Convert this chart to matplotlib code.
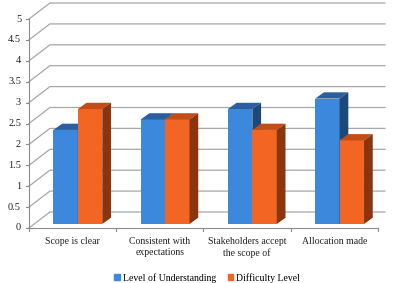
import matplotlib
matplotlib.use('Agg')
import matplotlib.pyplot as plt
from matplotlib.patches import Polygon, Patch
import numpy as np

# data
categories = ['Scope is clear', 'Consistent with\nexpectations',
              'Stakeholders accept\nthe scope of', 'Allocation made']
understanding = [2.25, 2.5, 2.75, 3.0]
difficulty = [2.75, 2.5, 2.25, 2.0]
series_names = ['Level of Understanding', 'Difficulty Level']
y_ticks = [0, 0.5, 1, 1.5, 2, 2.5, 3, 3.5, 4, 4.5, 5]
y_tick_labels = ['0', '0.5', '1', '1.5', '2', '2.5', '3', '3.5', '4', '4.5', '5']

# fake 3d geometry (data units)
WALL_DX, WALL_DY = 0.24, 0.383      # depth of the back wall
BAR_X0, BAR_Y0 = 0.06, 0.096        # bars set back from front plane
BAR_DX, BAR_DY = 0.10, 0.15         # depth of each bar
BAR_W = 0.28
GRID_END = 3.58

colors = {
    'blue': ('#3C88DC', '#2B5F9F', '#1F4878'),
    'orange': ('#F26522', '#C24E17', '#8A3510'),
}
grid_c = '#A8A8A8'
axis_c = '#8C8C8C'
serif = ['Liberation Serif', 'DejaVu Serif']

fig = plt.figure(figsize=(3.93, 2.83), dpi=100)
ax = fig.add_axes([0, 0, 1, 1])
ax.set_xlim(-0.832, 3.672)
ax.set_ylim(-1.316, 5.455)
ax.axis('off')

# side wall diagonals + back wall grid
for v in y_ticks:
    ax.plot([-0.5, -0.5 + WALL_DX, GRID_END], [v, v + WALL_DY, v + WALL_DY],
            color=grid_c, lw=0.9, zorder=1)
    ax.plot([-0.5, -0.535], [v, v], color=axis_c, lw=0.8, zorder=1)

# front axes
ax.plot([-0.5, -0.5], [0, 5], color=axis_c, lw=0.8, zorder=1)
ax.plot([-0.5, 3.5], [0, 0], color=axis_c, lw=0.8, zorder=1)
for b in np.arange(-0.5, 4.0, 1.0):
    ax.plot([b, b], [0, -0.07], color=axis_c, lw=0.8, zorder=1)

for v, lab in zip(y_ticks, y_tick_labels):
    ax.text(-0.59, v, lab, ha='right', va='center', fontsize=7.5,
            family=serif, color='#222222')

x = np.arange(len(categories))


def draw_bar(xl, h, cols, z):
    front, top, side = cols
    ax.bar(xl, h, width=BAR_W, bottom=BAR_Y0, align='edge', color=front,
           zorder=z)
    xr = xl + BAR_W
    yt = BAR_Y0 + h
    ax.add_patch(Polygon([(xl, yt), (xr, yt), (xr + BAR_DX, yt + BAR_DY),
                          (xl + BAR_DX, yt + BAR_DY)], closed=True,
                         facecolor=top, edgecolor='none', zorder=z))
    ax.add_patch(Polygon([(xr, BAR_Y0), (xr, yt), (xr + BAR_DX, yt + BAR_DY),
                          (xr + BAR_DX, BAR_Y0 + BAR_DY)], closed=True,
                         facecolor=side, edgecolor='none', zorder=z))


z = 3
for i in range(len(categories)):
    draw_bar(x[i] + BAR_X0 - BAR_W, understanding[i], colors['blue'], z)
    draw_bar(x[i] + BAR_X0, difficulty[i], colors['orange'], z + 1)
    z += 2

for i, lab in enumerate(categories):
    ax.text(x[i], -0.22, lab, ha='center', va='top', fontsize=7,
            family=serif, color='#222222', linespacing=1.3)

handles = [Patch(color=colors['blue'][0]), Patch(color=colors['orange'][0])]
fig.legend(handles, series_names, loc='lower center', ncol=2, frameon=False,
           bbox_to_anchor=(0.527, -0.03), handlelength=0.6, handleheight=0.6,
           handletextpad=0.3, columnspacing=1.2,
           prop={'family': serif, 'size': 7})

fig.savefig('out.png', dpi=100)
